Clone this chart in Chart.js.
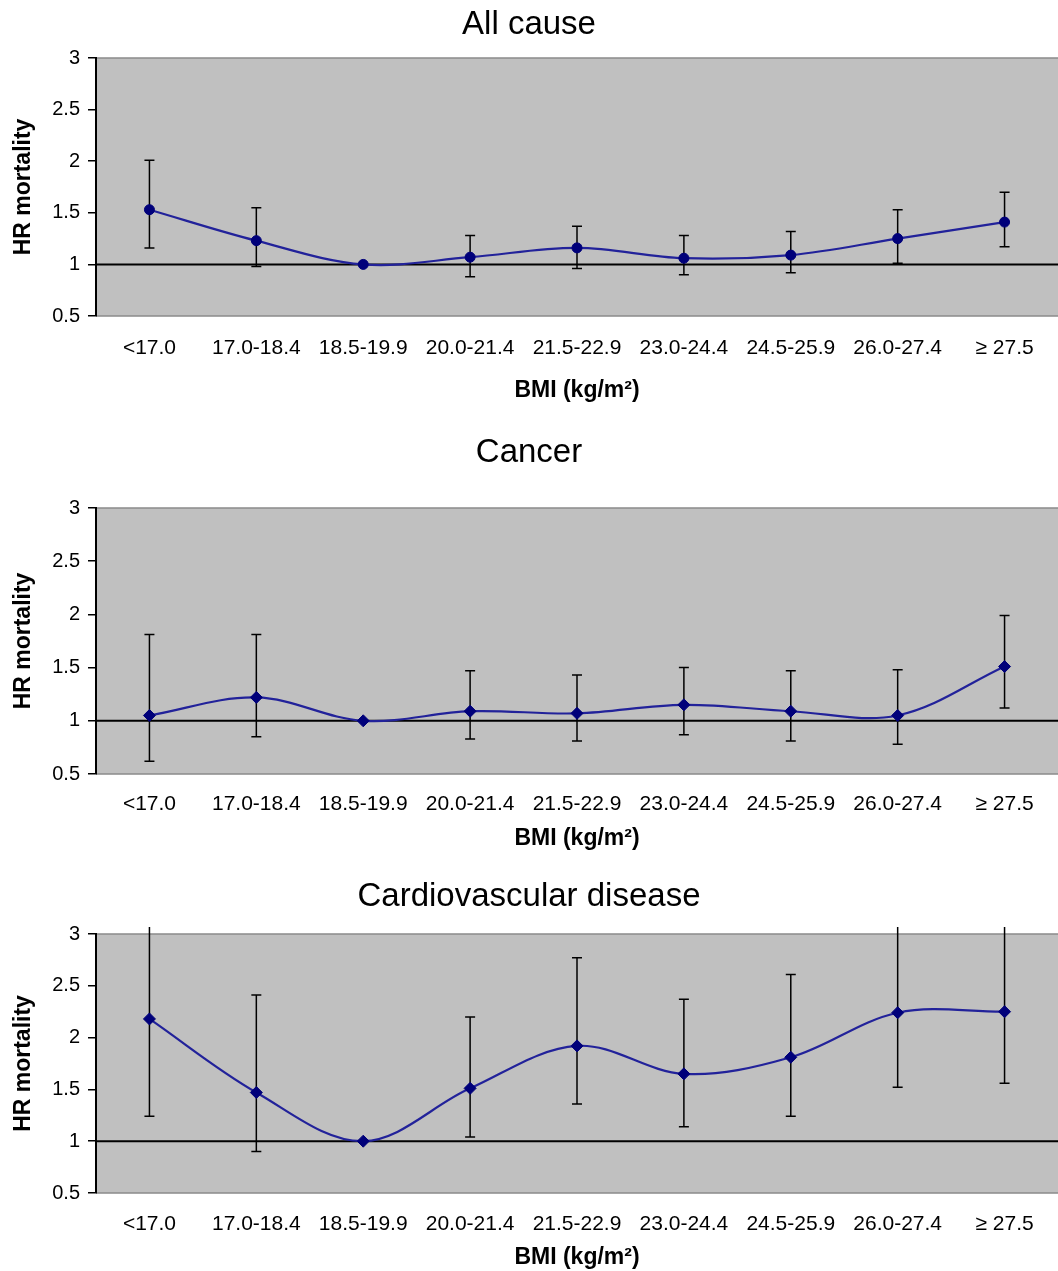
<!DOCTYPE html>
<html>
<head>
<meta charset="utf-8">
<style>
    html, body { margin: 0; background: #fff; overflow: hidden; }
    .panel { position: absolute; left: 0; width: 1058px; }
</style>
</head>
<body>
<div class="panel" style="top:0px;height:410px"><canvas id="allCause"></canvas></div>
<div class="panel" style="top:430px;height:425px"><canvas id="cancer"></canvas></div>
<div class="panel" style="top:862px;height:409px"><canvas id="cvd"></canvas></div>

<script src="https://cdn.jsdelivr.net/npm/chart.js"></script>
<script>
    // BMI 범주
    const categories = ['<17.0', '17.0-18.4', '18.5-19.9', '20.0-21.4', '21.5-22.9',
                        '23.0-24.4', '24.5-25.9', '26.0-27.4', '\u2265 27.5'];
    const yTicks = [0.5, 1, 1.5, 2, 2.5, 3];

    // All cause
    const allHr    = [1.53, 1.23, 1.0, 1.07, 1.16, 1.06, 1.09, 1.25, 1.41];
    const allLower = [1.16, 0.98, null, 0.88, 0.96, 0.90, 0.92, 1.01, 1.17];
    const allUpper = [2.01, 1.55, null, 1.28, 1.37, 1.28, 1.32, 1.53, 1.70];

    // Cancer
    const cancerHr    = [1.05, 1.22, 1.0, 1.09, 1.07, 1.15, 1.09, 1.05, 1.51];
    const cancerLower = [0.62, 0.85, null, 0.83, 0.81, 0.87, 0.81, 0.78, 1.12];
    const cancerUpper = [1.81, 1.81, null, 1.47, 1.43, 1.50, 1.47, 1.48, 1.99];

    // Cardiovascular disease (upper limits above 3 run off the plot)
    const cvdHr    = [2.18, 1.47, 1.0, 1.51, 1.92, 1.65, 1.81, 2.24, 2.25];
    const cvdLower = [1.24, 0.90, null, 1.04, 1.36, 1.14, 1.24, 1.52, 1.56];
    const cvdUpper = [3.60, 2.41, null, 2.20, 2.77, 2.37, 2.61, 3.60, 3.60];

    const FONT = 'Arial, "Liberation Sans", sans-serif';

    // 회색 배경 + 테두리
    const plotBg = {
        id: 'plotBg',
        beforeDraw(chart) {
            const {ctx, chartArea: a} = chart;
            ctx.save();
            ctx.fillStyle = '#c0c0c0';
            ctx.fillRect(a.left, a.top, a.right - a.left, a.bottom - a.top);
            ctx.strokeStyle = '#8a8a8a';
            ctx.lineWidth = 1.5;
            ctx.beginPath();
            ctx.moveTo(a.left, a.top); ctx.lineTo(a.right, a.top);
            ctx.moveTo(a.left, a.bottom); ctx.lineTo(a.right, a.bottom);
            ctx.stroke();
            ctx.restore();
        }
    };

    // HR = 1 기준선과 신뢰구간
    const errorBars = {
        id: 'errorBars',
        beforeDatasetsDraw(chart, args, opts) {
            const {ctx, chartArea: a} = chart;
            const x = chart.scales.x, y = chart.scales.y;
            ctx.save();
            ctx.strokeStyle = '#000';
            ctx.lineWidth = 2;
            const ref = y.getPixelForValue(1);
            ctx.beginPath();
            ctx.moveTo(a.left, ref); ctx.lineTo(a.right, ref);
            ctx.stroke();

            ctx.lineWidth = 1.5;
            opts.lower.forEach((lo, i) => {
                const hi = opts.upper[i];
                if (lo == null || hi == null) return;
                const px = x.getPixelForValue(i);
                let top = y.getPixelForValue(hi);
                const bot = y.getPixelForValue(lo);
                const limit = a.top - 7;
                const clipped = top < limit;
                if (clipped) top = limit;
                ctx.beginPath();
                ctx.moveTo(px, top); ctx.lineTo(px, bot);
                if (!clipped) { ctx.moveTo(px - 5, top); ctx.lineTo(px + 5, top); }
                ctx.moveTo(px - 5, bot); ctx.lineTo(px + 5, bot);
                ctx.stroke();
            });
            ctx.restore();
        }
    };

    function makeChart(id, title, hr, lower, upper, pointStyle, pointRadius, layout) {
        const ctx = document.getElementById(id).getContext('2d');
        return new Chart(ctx, {
            type: 'line',
            data: {
                labels: categories,
                datasets: [{
                    data: hr,
                    borderColor: '#22229a',
                    borderWidth: 2.2,
                    tension: 0.35,
                    pointStyle: pointStyle,
                    pointRadius: pointRadius,
                    pointBackgroundColor: '#00007a',
                    pointBorderColor: '#00007a',
                    pointBorderWidth: 1
                }]
            },
            options: {
                responsive: true,
                maintainAspectRatio: false,
                animation: false,
                layout: { padding: 0, autoPadding: false },
                plugins: {
                    legend: { display: false },
                    tooltip: { enabled: false },
                    title: {
                        display: true,
                        text: title,
                        color: '#000',
                        font: { family: FONT, size: 33, weight: 'normal' },
                        padding: { top: layout.titleTop, bottom: layout.titleBottom }
                    },
                    errorBars: { lower: lower, upper: upper }
                },
                scales: {
                    x: {
                        offset: true,
                        grid: { display: false, drawTicks: false },
                        border: { display: false },
                        ticks: {
                            color: '#000',
                            padding: layout.tickPad,
                            maxRotation: 0,
                            autoSkip: false,
                            font: { family: FONT, size: 21 }
                        },
                        title: {
                            display: true,
                            text: 'BMI (kg/m\u00b2)',
                            color: '#000',
                            font: { family: FONT, size: 23, weight: 'bold' },
                            padding: { top: 0, bottom: layout.xTitleBottom }
                        },
                        afterFit(s) {
                            s.height = layout.xHeight;
                            s.paddingLeft = 0;
                            s.paddingRight = 0;
                        }
                    },
                    y: {
                        min: 0.5,
                        max: 3,
                        afterBuildTicks(s) { s.ticks = yTicks.map(v => ({ value: v })); },
                        grid: { drawOnChartArea: false, drawTicks: true, tickLength: 8, color: '#000', lineWidth: 1.5 },
                        border: { color: '#000', width: 2 },
                        ticks: {
                            color: '#000',
                            padding: 8,
                            font: { family: FONT, size: 20 },
                            callback: v => String(v)
                        },
                        title: {
                            display: true,
                            text: 'HR mortality',
                            color: '#000',
                            font: { family: FONT, size: 23, weight: 'bold' },
                            padding: { top: 10, bottom: 0 }
                        },
                        afterFit(s) { s.width = 96; }
                    }
                }
            },
            plugins: [plotBg, errorBars]
        });
    }

    makeChart('allCause', 'All cause', allHr, allLower, allUpper, 'circle', 5,
        { titleTop: 5, titleBottom: 13.4, tickPad: 20, xTitleBottom: 6, xHeight: 94 });
    makeChart('cancer', 'Cancer', cancerHr, cancerLower, cancerUpper, 'rectRot', 6,
        { titleTop: 3, titleBottom: 35.4, tickPad: 18, xTitleBottom: 3, xHeight: 81 });
    makeChart('cvd', 'Cardiovascular disease', cvdHr, cvdLower, cvdUpper, 'rectRot', 6,
        { titleTop: 15, titleBottom: 17.4, tickPad: 19, xTitleBottom: 0, xHeight: 78 });
</script>
</body>
</html>
